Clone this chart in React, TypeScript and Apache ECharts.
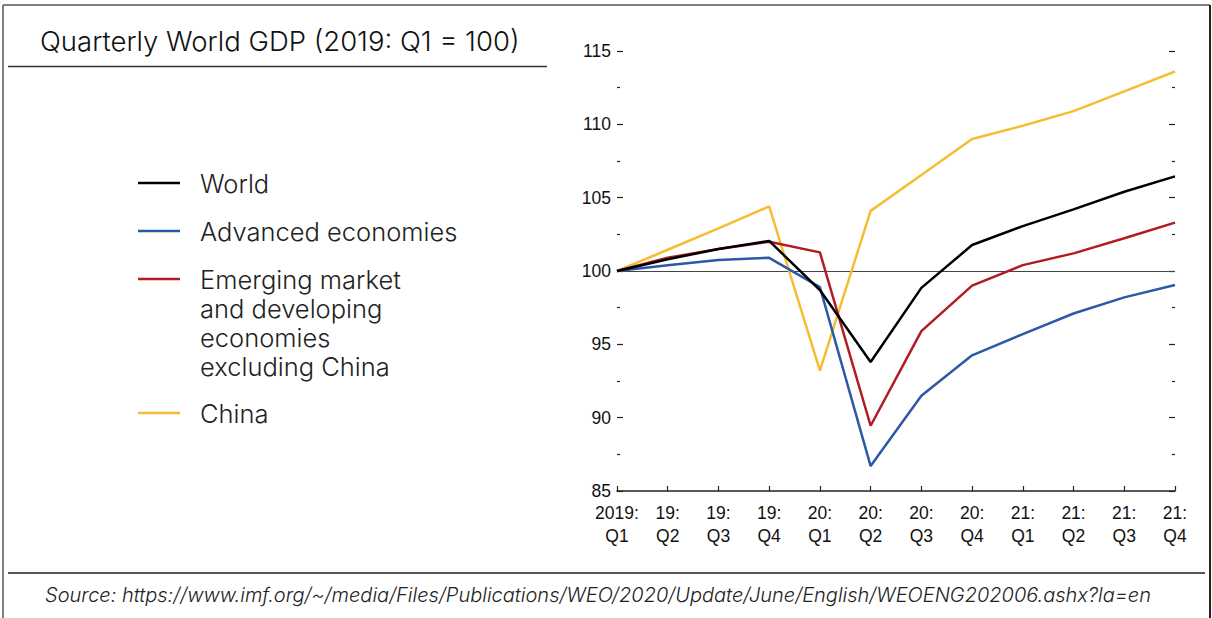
import React, { useEffect, useRef } from "react";
import * as echarts from "echarts";

const categories = [
  "2019:\nQ1", "19:\nQ2", "19:\nQ3", "19:\nQ4",
  "20:\nQ1", "20:\nQ2", "20:\nQ3", "20:\nQ4",
  "21:\nQ1", "21:\nQ2", "21:\nQ3", "21:\nQ4",
];

const worldValues = [100, 100.8, 101.5, 102.05, 98.7, 93.8, 98.85, 101.77, 103.06, 104.2, 105.4, 106.45];
const advancedValues = [100, 100.4, 100.75, 100.9, 98.9, 86.7, 91.5, 94.25, 95.7, 97.1, 98.2, 99.05];
const emdeValues = [100, 100.9, 101.5, 102.0, 101.27, 89.45, 95.9, 99.0, 100.4, 101.2, 102.23, 103.3];
const chinaValues = [100, 101.45, 102.9, 104.4, 93.2, 104.1, 106.55, 109.0, 109.9, 110.9, 112.25, 113.6];

const seriesNames = [
  "World",
  "Advanced economies",
  "Emerging market\nand developing\neconomies\nexcluding China",
  "China",
];
const seriesColors = ["#000000", "#2D58A7", "#B31B23", "#F7BD32"];
const seriesData = [worldValues, advancedValues, emdeValues, chinaValues];

const titleText = "Quarterly World GDP (2019: Q1 = 100)";
const sourceText =
  "Source: https://www.imf.org/~/media/Files/Publications/WEO/2020/Update/June/English/WEOENG202006.ashx?la=en";

const yMin = 85;
const yMax = 115;
const yStep = 5;
const refLine = 100;

export default function App() {
  const ref = useRef<HTMLDivElement>(null);
  useEffect(() => {
    if (!ref.current) return;
    const chart = echarts.init(ref.current, null, { renderer: "svg" });
    const uiFont = "Inter";
    const legendTops = [183, 231, 279, 413];
    const legendGraphics: any[] = [];
    seriesNames.forEach((name, i) => {
      legendGraphics.push({
        type: "line",
        shape: { x1: 138, y1: legendTops[i], x2: 180, y2: legendTops[i] },
        style: { stroke: seriesColors[i], lineWidth: 2.5 },
      });
      legendGraphics.push({
        type: "text",
        x: 200,
        y: legendTops[i] - 14.5,
        style: {
          text: name,
          font: `300 25.5px ${uiFont}`,
          fill: "#222",
          lineHeight: 29,
          verticalAlign: "top",
        },
      });
    });

    const axisFont = "Liberation Sans";
    const order = [3, 1, 2, 0];
    const series: any[] = order.map((i, k) => ({
      name: seriesNames[i],
      type: "line",
      data: seriesData[i],
      symbol: "none",
      z: 3 + k,
      lineStyle: { color: seriesColors[i], width: 2.5 },
      itemStyle: { color: seriesColors[i] },
      markLine:
        k === 0
          ? {
              silent: true,
              symbol: ["none", "none"],
              label: { show: false },
              lineStyle: { color: "#444", width: 1, type: "solid" },
              data: [{ yAxis: refLine }],
              z: 1,
            }
          : undefined,
    }));

    const yAxisBase = {
      type: "value",
      min: yMin,
      max: yMax,
      interval: yStep,
      axisLine: { show: false },
      splitLine: { show: false },
      axisTick: { show: true, inside: true, length: 6, lineStyle: { color: "#222", width: 1.2 } },
      minorTick: { show: true, splitNumber: 2, length: 3, lineStyle: { color: "#222", width: 1.2 } },
    };

    chart.setOption({
      animation: false,
      backgroundColor: "#ffffff",
      grid: { left: 617, right: 37, top: 51, bottom: 127, containLabel: false },
      xAxis: {
        type: "category",
        boundaryGap: false,
        data: categories,
        axisLine: { lineStyle: { color: "#222", width: 1.5 } },
        axisTick: { show: true, inside: true, length: 5, lineStyle: { color: "#222", width: 1.2 } },
        axisLabel: {
          interval: 0,
          color: "#111",
          fontFamily: axisFont,
          fontSize: 17.5,
          lineHeight: 23,
          margin: 10,
        },
      },
      yAxis: [
        {
          ...yAxisBase,
          position: "left",
          axisLabel: { color: "#111", fontFamily: axisFont, fontSize: 17.5, margin: 6 },
        },
        {
          ...yAxisBase,
          position: "right",
          axisLabel: { show: false },
        },
      ],
      series,
      graphic: [
        {
          type: "line",
          shape: { x1: 3, y1: 5, x2: 1210, y2: 5 },
          style: { stroke: "#555", lineWidth: 1.5 },
        },
        {
          type: "line",
          shape: { x1: 3, y1: 5, x2: 3, y2: 618 },
          style: { stroke: "#555", lineWidth: 1.5 },
        },
        {
          type: "line",
          shape: { x1: 1210, y1: 5, x2: 1210, y2: 618 },
          style: { stroke: "#222", lineWidth: 2 },
        },
        {
          type: "text",
          x: 40,
          y: 41,
          style: {
            text: titleText,
            font: `300 27.5px ${uiFont}`,
            fill: "#111",
            verticalAlign: "middle",
          },
        },
        {
          type: "line",
          shape: { x1: 8, y1: 66.5, x2: 547, y2: 66.5 },
          style: { stroke: "#333", lineWidth: 1.5 },
        },
        ...legendGraphics,
        {
          type: "line",
          shape: { x1: 8, y1: 573, x2: 1205, y2: 573 },
          style: { stroke: "#555", lineWidth: 2 },
        },
        {
          type: "text",
          x: 45,
          y: 595,
          style: {
            text: sourceText,
            font: `italic 300 20px ${uiFont}`,
            fill: "#222",
            verticalAlign: "middle",
          },
        },
      ],
    });
    return () => chart.dispose();
  }, []);

  return (
    <div
      ref={ref}
      style={{ position: "absolute", left: 0, top: 0, width: 1212, height: 618 }}
    />
  );
}
